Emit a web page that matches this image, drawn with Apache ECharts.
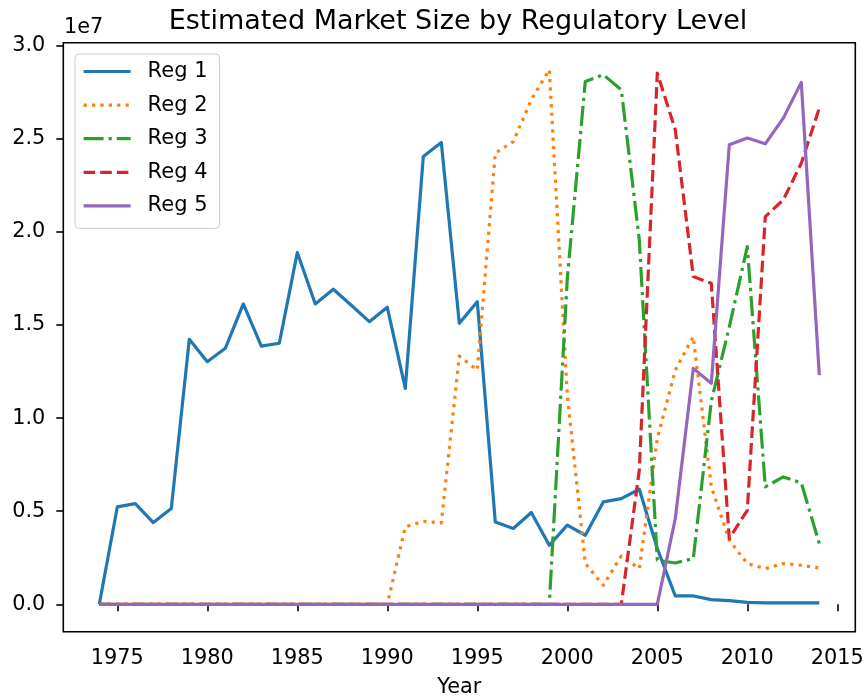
<!DOCTYPE html>
<html>
<head>
<meta charset="utf-8">
<title>Estimated Market Size by Regulatory Level</title>
<script src="https://cdn.jsdelivr.net/npm/echarts@6/dist/echarts.min.js"></script>
<style>
  html, body { margin: 0; padding: 0; background: #fff; }
  #chart { width: 864px; height: 698px; }
</style>
</head>
<body>
<div id="chart"></div>
<script>
// Year axis
const years = [1974, 1975, 1976, 1977, 1978, 1979, 1980, 1981, 1982, 1983,
  1984, 1985, 1986, 1987, 1988, 1989, 1990, 1991, 1992, 1993,
  1994, 1995, 1996, 1997, 1998, 1999, 2000, 2001, 2002, 2003,
  2004, 2005, 2006, 2007, 2008, 2009, 2010, 2011, 2012, 2013, 2014];

// Estimated market size per regulatory level
const reg1 = [0, 5.23e6, 5.41e6, 4.39e6, 5.15e6, 1.423e7, 1.303e7, 1.375e7, 1.613e7, 1.387e7,
  1.402e7, 1.889e7, 1.613e7, 1.692e7, 1.606e7, 1.518e7, 1.595e7, 1.160e7, 2.405e7, 2.480e7,
  1.509e7, 1.625e7, 4.42e6, 4.07e6, 4.93e6, 3.17e6, 4.25e6, 3.71e6, 5.50e6, 5.68e6,
  6.18e6, 3.0e6, 4.5e5, 4.5e5, 2.5e5, 2.0e5, 1.0e5, 8e4, 8e4, 8e4, 8e4];
const reg2 = [0, 0, 0, 0, 0, 0, 0, 0, 0, 0,
  0, 0, 0, 0, 0, 0, 0, 4.16e6, 4.46e6, 4.37e6,
  1.333e7, 1.258e7, 2.423e7, 2.485e7, 2.710e7, 2.871e7, 1.124e7, 2.2e6, 1.02e6, 2.6e6,
  1.92e6, 8.9e6, 1.258e7, 1.437e7, 6.31e6, 3.44e6, 2.19e6, 1.92e6, 2.19e6, 2.10e6, 1.95e6];
const reg3 = [0, 0, 0, 0, 0, 0, 0, 0, 0, 0,
  0, 0, 0, 0, 0, 0, 0, 0, 0, 0,
  0, 0, 0, 0, 0, 0, 1.75e7, 2.808e7, 2.844e7, 2.763e7,
  1.957e7, 2.37e6, 2.22e6, 2.46e6, 1.09e7, 1.49e7, 1.921e7, 6.31e6, 6.84e6, 6.52e6, 3.26e6];
const reg4 = [0, 0, 0, 0, 0, 0, 0, 0, 0, 0,
  0, 0, 0, 0, 0, 0, 0, 0, 0, 0,
  0, 0, 0, 0, 0, 0, 0, 0, 0, 0,
  7.2e6, 2.853e7, 2.548e7, 1.76e7, 1.724e7, 3.53e6, 5.05e6, 2.082e7, 2.172e7, 2.369e7, 2.665e7];
const reg5 = [0, 0, 0, 0, 0, 0, 0, 0, 0, 0,
  0, 0, 0, 0, 0, 0, 0, 0, 0, 0,
  0, 0, 0, 0, 0, 0, 0, 0, 0, 0,
  0, 0, 4.61e6, 1.267e7, 1.187e7, 2.468e7, 2.504e7, 2.473e7, 2.611e7, 2.803e7, 1.231e7];

const seriesNames = ['Reg 1', 'Reg 2', 'Reg 3', 'Reg 4', 'Reg 5'];

// Tick positions
const xTicks = [1975, 1980, 1985, 1990, 1995, 2000, 2005, 2010, 2015];
const yTicks = [0, 5e6, 1e7, 1.5e7, 2e7, 2.5e7, 3e7];

const FONT = 'DejaVu Sans';
const colors = ['#1f77b4', '#ff7f0e', '#2ca02c', '#d62728', '#9467bd'];
const dashes = ['solid', [3.2, 5.2], [20, 5, 3.2, 5], [11.6, 5], 'solid'];
const LW = 3.2;

const allValues = [reg1, reg2, reg3, reg4, reg5];

const chart = echarts.init(document.getElementById('chart'), null, { renderer: 'canvas' });

const series = allValues.map((vals, k) => ({
  name: seriesNames[k],
  type: 'line',
  data: years.map((yr, i) => [yr, vals[i]]),
  showSymbol: false,
  symbol: 'none',
  color: colors[k],
  lineStyle: { color: colors[k], width: LW, type: dashes[k], cap: 'butt', join: 'round' },
  emphasis: { disabled: true },
  z: 2 + k
}));

chart.setOption({
  animation: false,
  backgroundColor: '#fff',
  title: {
    text: 'Estimated Market Size by Regulatory Level',
    left: 453,
    top: 3,
    textAlign: 'center',
    textStyle: { fontFamily: FONT, fontSize: 27, fontWeight: 'normal', color: '#000' }
  },
  graphic: [{
    type: 'text',
    left: 64,
    top: 17,
    style: { text: '1e7', font: '20.8px "DejaVu Sans"', fill: '#000' }
  }],
  legend: {
    data: seriesNames,
    orient: 'vertical',
    left: 75,
    top: 54,
    itemWidth: 47,
    itemHeight: 21,
    itemGap: 12.6,
    padding: [7, 12, 12, 7],
    backgroundColor: 'rgba(255,255,255,0.8)',
    borderColor: '#cccccc',
    borderWidth: 1,
    borderRadius: 4,
    itemStyle: { opacity: 0 },
    lineStyle: { width: LW },
    textStyle: { fontFamily: FONT, fontSize: 21, color: '#000', padding: [0, 0, 0, 12] },
    selectedMode: false
  },
  grid: {
    left: 63.3,
    right: 8.7,
    top: 42.7,
    bottom: 66.3,
    containLabel: false,
    outerBoundsMode: 'none',
    show: true,
    borderColor: '#000',
    borderWidth: 1.6,
    backgroundColor: 'transparent'
  },
  xAxis: {
    type: 'value',
    min: 1972,
    max: 2016,
    name: 'Year',
    nameLocation: 'middle',
    nameGap: 45,
    nameTextStyle: { fontFamily: FONT, fontSize: 20.8, color: '#000' },
    axisLine: { show: false },
    splitLine: { show: false },
    axisTick: { show: true, length: 7, customValues: xTicks, lineStyle: { color: '#000', width: 1.6 } },
    axisLabel: {
      customValues: xTicks,
      margin: 16,
      fontFamily: FONT,
      fontSize: 20.8,
      color: '#000',
      formatter: v => String(v)
    }
  },
  yAxis: {
    type: 'value',
    min: -0.147e7,
    max: 3.016e7,
    axisLine: { show: false },
    splitLine: { show: false },
    axisTick: { show: true, length: 7, customValues: yTicks, lineStyle: { color: '#000', width: 1.6 } },
    axisLabel: {
      customValues: yTicks,
      margin: 18,
      fontFamily: FONT,
      fontSize: 20.8,
      color: '#000',
      formatter: v => (v / 1e7).toFixed(1)
    }
  },
  series: series
});
</script>
</body>
</html>
